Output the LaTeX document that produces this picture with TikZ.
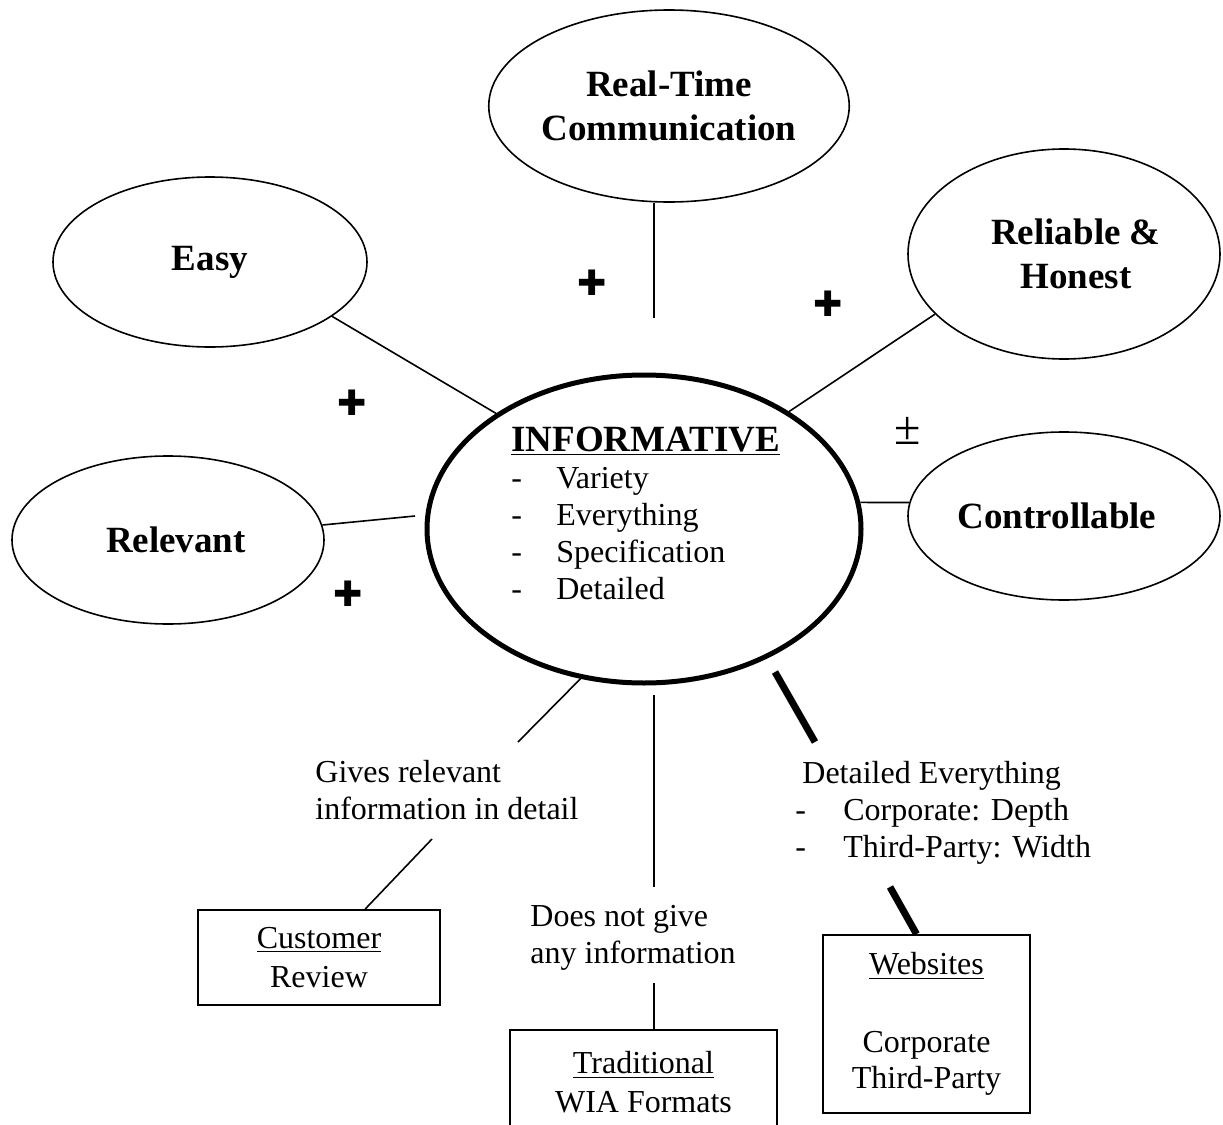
\documentclass[tikz,border=0pt]{standalone}
\usepackage{fontspec}
\setmainfont{Liberation Serif}
\newfontfamily\symfont{DejaVu Sans}
\usetikzlibrary{shapes.geometric,positioning}

\newcommand{\listdash}[1][22.5pt]{\makebox[#1][l]{-}}

\begin{document}
\begin{tikzpicture}[x=0.5pt,y=-0.5pt,
  attribute/.style={ellipse,draw,line width=0.8pt,inner sep=0pt,align=center,
    font=\bfseries\fontsize{18.5}{22}\selectfont},
  core/.style={ellipse,draw,line width=2.5pt,inner sep=0pt},
  source/.style={rectangle,draw,line width=0.9pt,inner sep=0pt,align=center,
    font=\fontsize{16}{19.5}\selectfont},
  remark/.style={inner sep=0pt,align=left,anchor=base west,
    font=\fontsize{16}{18.5}\selectfont},
  sign/.style={inner sep=0pt,font=\symfont\fontsize{17.5}{17.5}\selectfont},
  link/.style={line width=0.8pt},
  heavylink/.style={line width=3.5pt}]
\useasboundingbox (0,0) rectangle (1223,1125);

% attributes round the core
\node[attribute,minimum width=179pt,minimum height=96pt] (realtime) at (669,106) {Real-Time\\Communication};
\node[attribute,minimum width=157pt,minimum height=85pt] (easy) at (210,262) {Easy};
\node[attribute,minimum width=156pt,minimum height=105pt] (reliable) at (1064,254) {\hspace*{12pt}Reliable \&\\\hspace*{12pt}Honest};
\node[attribute,minimum width=156pt,minimum height=84pt] (relevant) at (168,540) {\hspace*{8pt}Relevant};
\node[attribute,minimum width=156pt,minimum height=84pt] (controllable) at (1064,516) {Controllable\hspace*{7pt}};

% core
\node[core,minimum width=217pt,minimum height=154pt] (info) at (644,529) {};
\node[remark] (infolist) at (511,599) {{\bfseries\fontsize{18.5}{22}\selectfont\underline{INFORMATIVE}}\\
  \listdash Variety\\ \listdash Everything\\ \listdash Specification\\ \listdash Detailed};

% signs
\node[sign] (plusrt) at (592,283) {✚};
\node[sign] (plusrh) at (828,304) {✚};
\node[sign] (pluseasy) at (352,403) {✚};
\node[sign] (plusrel) at (348,594) {✚};
\node[inner sep=0pt,font=\fontsize{24}{24}\selectfont] (plusminus) at (908,431) {±};

% sources
\node[source,minimum width=121pt,minimum height=47.5pt] (customer) at (319,957.5) {\underline{Customer}\\Review};
\node[source,minimum width=133.5pt,minimum height=52.5pt] (traditional) at (643.5,1082.5) {\underline{Traditional}\\WIA Formats};
\node[source,minimum width=103.5pt,minimum height=89pt,font=\fontsize{16}{18}\selectfont] (websites) at (926.5,1024) {\underline{Websites}\\[21pt]Corporate\\Third-Party};

% remarks on the links
\node[remark] (gives) at (315,819) {Gives relevant\\information in detail};
\node[remark] (nogive) at (530,963) {Does not give\\any information};
\node[remark] (detailed) at (795,857) {\hspace*{3.5pt}Detailed Everything\\
  \listdash[24pt]Corporate: Depth\\ \listdash[24pt]Third-Party: Width};

\coordinate (rtend) at (654,318);
\coordinate (relend) at (415,516);
\coordinate (custa) at (518,742);
\coordinate (custb) at (432,839);
\coordinate (trada) at (654,695);
\coordinate (tradb) at (654,887);
\coordinate (tradc) at (654,983);
\coordinate (weba) at (775,672);
\coordinate (webb) at (815,742);
\coordinate (webc) at (890,887);

\path[link] (rtend |- realtime.south) edge (rtend)
  (easy.-24) edge (info.142)
  (reliable.205) edge (info.39)
  (info.7) edge (controllable.175)
  (relevant) edge (relend)
  (info.247) edge (custa)
  (custb) edge (customer)
  (trada) edge (tradb)
  (tradc) edge (tradc |- traditional.north);
\path[heavylink] (weba) edge (webb)
  (webc) edge ([xshift=-5pt]websites.north);
\end{tikzpicture}
\end{document}
